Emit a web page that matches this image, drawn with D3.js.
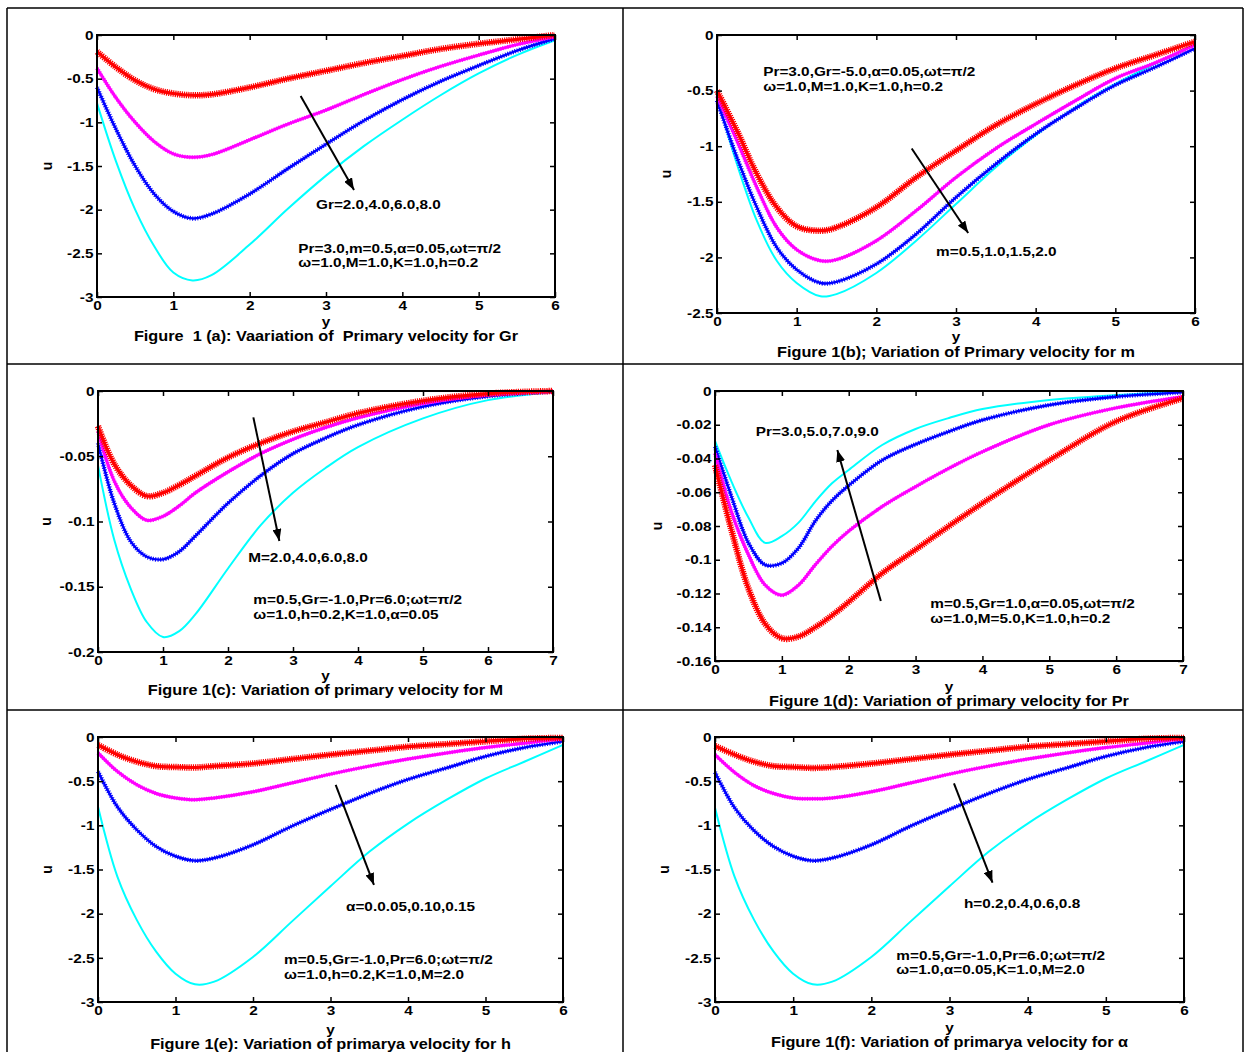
<!DOCTYPE html>
<html>
<head>
<meta charset="utf-8">
<script src="https://cdn.jsdelivr.net/npm/d3@7"></script>
<style>
  body { margin: 0; background: #fff; }
  svg text { font-family: "Liberation Sans", Arial, sans-serif; font-weight: bold; fill: #000; }
</style>
</head>
<body>
<svg id="chart" width="1246" height="1052"></svg>
<script>

// ---- data ----

const xA = [0, 0.25, 0.5, 0.75, 1, 1.25, 1.5, 2, 2.5, 3, 3.5, 4, 4.5, 5, 5.5, 6]
const redA = [-0.19, -0.37, -0.52, -0.62, -0.67, -0.69, -0.68, -0.6, -0.5, -0.41, -0.32, -0.24, -0.16, -0.1, -0.05, 0]
const magA = [-0.38, -0.72, -1.0, -1.22, -1.36, -1.4, -1.37, -1.2, -1.02, -0.86, -0.68, -0.51, -0.36, -0.23, -0.11, -0.02]
const blueA = [-0.6, -1.08, -1.5, -1.82, -2.02, -2.1, -2.05, -1.82, -1.53, -1.25, -0.98, -0.74, -0.53, -0.35, -0.18, -0.04]
const cyanA = [-0.78, -1.45, -2.0, -2.42, -2.72, -2.81, -2.75, -2.4, -1.99, -1.61, -1.27, -0.97, -0.69, -0.44, -0.23, -0.06]

const xB = [0, 0.25, 0.5, 0.75, 1, 1.3, 1.5, 2, 2.5, 3, 3.5, 4, 4.5, 5, 5.5, 6]
const redB = [-0.5, -0.86, -1.25, -1.55, -1.72, -1.76, -1.73, -1.55, -1.28, -1.04, -0.81, -0.62, -0.45, -0.3, -0.18, -0.06]
const magB = [-0.55, -0.95, -1.37, -1.73, -1.93, -2.03, -2.02, -1.85, -1.58, -1.28, -1.02, -0.8, -0.59, -0.39, -0.25, -0.09]
const blueB = [-0.59, -1.1, -1.55, -1.91, -2.11, -2.23, -2.22, -2.06, -1.79, -1.46, -1.16, -0.89, -0.66, -0.45, -0.29, -0.12]
const cyanB = [-0.56, -1.16, -1.67, -2.03, -2.23, -2.35, -2.33, -2.14, -1.85, -1.52, -1.19, -0.9, -0.65, -0.44, -0.26, -0.09]

const xC = [0, 0.25, 0.5, 0.75, 1, 1.25, 1.5, 2, 2.5, 3, 3.5, 4, 5, 6, 7]
const redC = [-0.027, -0.056, -0.072, -0.0805, -0.078, -0.072, -0.065, -0.051, -0.04, -0.031, -0.024, -0.017, -0.0075, -0.002, 0]
const magC = [-0.031, -0.069, -0.089, -0.099, -0.096, -0.088, -0.078, -0.062, -0.048, -0.037, -0.028, -0.0205, -0.0095, -0.003, -0.0005]
const blueC = [-0.04, -0.086, -0.115, -0.127, -0.129, -0.123, -0.111, -0.086, -0.065, -0.048, -0.036, -0.026, -0.012, -0.004, -0.0005]
const cyanC = [-0.057, -0.114, -0.151, -0.177, -0.1885, -0.184, -0.171, -0.136, -0.103, -0.078, -0.059, -0.043, -0.021, -0.007, -0.001]

const xD = [0, 0.25, 0.5, 0.75, 1, 1.25, 1.5, 1.75, 2, 2.5, 3, 3.5, 4, 5, 6, 7]
const redD = [-0.044, -0.083, -0.117, -0.138, -0.1465, -0.1455, -0.14, -0.133, -0.125, -0.108, -0.094, -0.08, -0.0665, -0.041, -0.018, -0.0043]
const magD = [-0.037, -0.072, -0.097, -0.115, -0.121, -0.115, -0.103, -0.092, -0.083, -0.0685, -0.0567, -0.0458, -0.036, -0.02, -0.01, -0.0034]
const blueD = [-0.033, -0.063, -0.09, -0.103, -0.102, -0.093, -0.077, -0.065, -0.056, -0.041, -0.0316, -0.024, -0.0172, -0.0083, -0.0034, -0.0008]
const cyanD = [-0.0296, -0.054, -0.075, -0.09, -0.086, -0.078, -0.0655, -0.0547, -0.0468, -0.032, -0.0225, -0.016, -0.0107, -0.0053, -0.0024, -0.0004]

const xE = [0, 0.25, 0.5, 0.75, 1, 1.25, 1.5, 2, 2.5, 3, 3.5, 4, 4.5, 5, 5.5, 6]
const redE = [-0.09, -0.2, -0.28, -0.33, -0.34, -0.345, -0.33, -0.3, -0.25, -0.2, -0.155, -0.11, -0.08, -0.05, -0.02, -0.01]
const magE = [-0.18, -0.39, -0.54, -0.64, -0.69, -0.71, -0.69, -0.62, -0.52, -0.42, -0.33, -0.25, -0.18, -0.12, -0.07, -0.02]
const blueE = [-0.39, -0.79, -1.05, -1.24, -1.35, -1.4, -1.37, -1.22, -1.01, -0.82, -0.64, -0.48, -0.35, -0.22, -0.12, -0.05]
const cyanE = [-0.79, -1.58, -2.07, -2.43, -2.68, -2.8, -2.77, -2.49, -2.09, -1.69, -1.3, -0.98, -0.71, -0.47, -0.28, -0.09]

const xF = [0, 0.25, 0.5, 0.75, 1, 1.25, 1.5, 2, 2.5, 3, 3.5, 4, 4.5, 5, 5.5, 6]
const redF = [-0.1, -0.2, -0.28, -0.33, -0.34, -0.35, -0.34, -0.3, -0.25, -0.2, -0.155, -0.11, -0.08, -0.05, -0.02, -0.01]
const magF = [-0.2, -0.4, -0.55, -0.64, -0.69, -0.7, -0.69, -0.62, -0.52, -0.42, -0.33, -0.25, -0.18, -0.12, -0.07, -0.02]
const blueF = [-0.4, -0.8, -1.06, -1.24, -1.35, -1.4, -1.37, -1.22, -1.01, -0.82, -0.64, -0.48, -0.35, -0.22, -0.12, -0.05]
const cyanF = [-0.8, -1.58, -2.07, -2.43, -2.68, -2.8, -2.77, -2.49, -2.09, -1.69, -1.3, -0.98, -0.71, -0.47, -0.28, -0.09]

// tick labels
const xTicks6 = [0, 1, 2, 3, 4, 5, 6]
const xTicks7 = [0, 1, 2, 3, 4, 5, 6, 7]
const yTicks3 = [0, -0.5, -1, -1.5, -2, -2.5, -3]
const yTicks25 = [0, -0.5, -1, -1.5, -2, -2.5]
const yTicks02 = [0, -0.05, -0.1, -0.15, -0.2]
const yTicks016 = [0, -0.02, -0.04, -0.06, -0.08, -0.1, -0.12, -0.14, -0.16]

// ---- layout ----

const FONT = 13
const TITLE_FONT = 13.8
const STRETCH = 1.18   // the source picture is stretched sideways

const panels = [
    { left: 97, right: 555, top: 35, bottom: 297, xd: [0, 6], yd: [-3, 0], xt: xTicks6, yt: yTicks3,
      ylab: 48, yDy: 29, tDy: 44,
      xs: xA, ys: [redA, magA, blueA, cyanA],
      title: 'Figure  1 (a): Vaariation of  Primary velocity for Gr',
      label: 'Gr=2.0,4.0,6.0,8.0', labelAt: [2.869, -1.998],
      params: ['Pr=3.0,m=0.5,α=0.05,ωt=π/2', 'ω=1.0,M=1.0,K=1.0,h=0.2'], paramsAt: [2.637, -2.496],
      arrow: [[2.668, -0.698], [3.367, -1.775]] },
    { left: 717, right: 1195, top: 35, bottom: 313, xd: [0, 6], yd: [-2.5, 0], xt: xTicks6, yt: yTicks25,
      ylab: 667, yDy: 28, tDy: 44,
      xs: xB, ys: [redB, magB, blueB, cyanB],
      title: 'Figure 1(b); Variation of Primary velocity for m',
      label: 'm=0.5,1.0,1.5,2.0', labelAt: [2.75, -1.99],
      params: ['Pr=3.0,Gr=-5.0,α=0.05,ωt=π/2', 'ω=1.0,M=1.0,K=1.0,h=0.2'], paramsAt: [0.58, -0.369],
      arrow: [[2.444, -1.021], [3.153, -1.781]] },
    { left: 98, right: 553, top: 391, bottom: 652, xd: [0, 7], yd: [-0.2, 0], xt: xTicks7, yt: yTicks02,
      ylab: 47, yDy: 28, tDy: 42.5,
      xs: xC, ys: [redC, magC, blueC, cyanC],
      title: 'Figure 1(c): Variation of primary velocity for M',
      label: 'M=2.0,4.0,6.0,8.0', labelAt: [2.31, -0.131],
      params: ['m=0.5,Gr=-1.0,Pr=6.0;ωt=π/2', 'ω=1.0,h=0.2,K=1.0,α=0.05'], paramsAt: [2.39, -0.1636],
      arrow: [[2.39, -0.0202], [2.79, -0.1149]] },
    { left: 715, right: 1183, top: 391, bottom: 661, xd: [0, 7], yd: [-0.16, 0], xt: xTicks7, yt: yTicks016,
      ylab: 658, yDy: 30, tDy: 44.5,
      xs: xD, ys: [redD, magD, blueD, cyanD],
      title: 'Figure 1(d): Variation of primary velocity for Pr',
      label: 'Pr=3.0,5.0,7.0,9.0', labelAt: [0.61, -0.0267],
      params: ['m=0.5,Gr=1.0,α=0.05,ωt=π/2', 'ω=1.0,M=5.0,K=1.0,h=0.2'], paramsAt: [3.22, -0.1286],
      arrow: [[2.48, -0.1244], [1.83, -0.035]] },
    { left: 98, right: 563, top: 737, bottom: 1002, xd: [0, 6], yd: [-3, 0], xt: xTicks6, yt: yTicks3,
      ylab: 48, yDy: 32, tDy: 47,
      xs: xE, ys: [redE, magE, blueE, cyanE],
      title: 'Figure 1(e): Variation of primarya velocity for h',
      label: 'α=0.0.05,0.10,0.15', labelAt: [3.2, -1.97],
      params: ['m=0.5,Gr=-1.0,Pr=6.0;ωt=π/2', 'ω=1.0,h=0.2,K=1.0,M=2.0'], paramsAt: [2.4, -2.575],
      arrow: [[3.067, -0.543], [3.561, -1.675]] },
    { left: 715, right: 1184, top: 737, bottom: 1002, xd: [0, 6], yd: [-3, 0], xt: xTicks6, yt: yTicks3,
      ylab: 665, yDy: 30, tDy: 44.5,
      xs: xF, ys: [redF, magF, blueF, cyanF],
      title: 'Figure 1(f): Variation of primarya velocity for α',
      label: 'h=0.2,0.4,0.6,0.8', labelAt: [3.184, -1.936],
      params: ['m=0.5,Gr=-1.0,Pr=6.0;ωt=π/2', 'ω=1.0,α=0.05,K=1.0,M=2.0'], paramsAt: [2.32, -2.519],
      arrow: [[3.057, -0.524], [3.55, -1.649]] }
]

// red, magenta, blue, cyan — thick textured bands stand in for the dense marker lines
const styles = [
    { color: '#ff0000', base: 3.2, band: 6.5, dash: '1.2 1' },
    { color: '#ff00ff', base: 3, band: 4, dash: '1 1.5' },
    { color: '#0000ff', base: 2.4, band: 4.5, dash: '1 1.5' },
    { color: '#00ffff', base: 2, band: 0, dash: null }
]

const svg = d3.select('#chart')

svg.append('defs').append('marker')
    .attr('id', 'head')
    .attr('markerUnits', 'userSpaceOnUse')
    .attr('viewBox', '0 0 12 9')
    .attr('refX', 12).attr('refY', 4.5)
    .attr('markerWidth', 12).attr('markerHeight', 9)
    .attr('orient', 'auto')
    .append('path')
    .attr('d', 'M0,0 L12,4.5 L0,9 Z')
    .attr('fill', '#000')

// stretched bold text placed at (x, y)
function label (g, x, y, txt, anchor, size) {
    return g.append('text')
        .attr('transform', `translate(${x},${y}) scale(${STRETCH},1)`)
        .attr('text-anchor', anchor || 'start')
        .attr('font-size', size || FONT)
        .style('white-space', 'pre')
        .text(txt)
}

// table grid
const grid = svg.append('g').attr('stroke', '#000').attr('stroke-width', 1.5)
;[7, 623, 1243].forEach(x => grid.append('line').attr('x1', x).attr('x2', x).attr('y1', 8).attr('y2', 1052))
;[8, 364, 710].forEach(y => grid.append('line').attr('x1', 7).attr('x2', 1243).attr('y1', y).attr('y2', y))

panels.forEach(p => {

    const x = d3.scaleLinear().domain(p.xd).range([p.left, p.right])
    const y = d3.scaleLinear().domain(p.yd).range([p.bottom, p.top])
    const g = svg.append('g')

    const line = d3.line()
        .x((d, i) => x(p.xs[i]))
        .y(d => y(d))
        .curve(d3.curveCatmullRom.alpha(0.5))

    // curves, cyan first so red ends on top
    const curves = g.append('g')
    for (let k = p.ys.length - 1; k >= 0; k--) {
        const s = styles[k]
        curves.append('path').attr('d', line(p.ys[k]))
            .attr('fill', 'none').attr('stroke', s.color).attr('stroke-width', s.base)
        if (s.band) {
            curves.append('path').attr('d', line(p.ys[k]))
                .attr('fill', 'none').attr('stroke', s.color).attr('stroke-width', s.band)
                .attr('stroke-dasharray', s.dash)
        }
    }

    // axes with inward ticks on all four sides
    const fmt = d => String(d)
    const ax = (gen, tr) => g.append('g').attr('transform', tr).call(gen)

    ax(d3.axisBottom(x).tickValues(p.xt).tickFormat(fmt).tickSize(-5).tickPadding(4), `translate(0,${p.bottom})`)
    ax(d3.axisLeft(y).tickValues(p.yt).tickFormat(fmt).tickSize(-5).tickPadding(3), `translate(${p.left},0)`)
    ax(d3.axisTop(x).tickValues(p.xt).tickFormat('').tickSize(-5), `translate(0,${p.top})`)
    ax(d3.axisRight(y).tickValues(p.yt).tickFormat('').tickSize(-5), `translate(${p.right},0)`)

    g.selectAll('.domain').remove()
    g.selectAll('.tick line').attr('stroke', '#000').attr('stroke-width', 1.5)
    g.selectAll('.tick text')
        .attr('font-size', FONT).attr('font-family', null)
        .attr('transform', `scale(${STRETCH},1)`)

    g.append('rect')
        .attr('x', p.left).attr('y', p.top)
        .attr('width', p.right - p.left).attr('height', p.bottom - p.top)
        .attr('fill', 'none').attr('stroke', '#000').attr('stroke-width', 2)

    // axis titles and caption
    const midX = (p.left + p.right) / 2
    label(g, midX, p.bottom + p.yDy, 'y', 'middle')
    label(g, midX, p.bottom + p.tDy, p.title, 'middle', TITLE_FONT)
    g.append('text')
        .attr('transform', `translate(${p.ylab + 4},${(p.top + p.bottom) / 2}) rotate(-90)`)
        .attr('text-anchor', 'middle').attr('font-size', 14).text('u')

    // annotations
    g.append('line')
        .attr('x1', x(p.arrow[0][0])).attr('y1', y(p.arrow[0][1]))
        .attr('x2', x(p.arrow[1][0])).attr('y2', y(p.arrow[1][1]))
        .attr('stroke', '#000').attr('stroke-width', 2)
        .attr('marker-end', 'url(#head)')

    label(g, x(p.labelAt[0]), y(p.labelAt[1]), p.label)

    p.params.forEach((t, i) => {
        label(g, x(p.paramsAt[0]), y(p.paramsAt[1]) + i * 14.5, t)
    })
})

</script>
</body>
</html>
